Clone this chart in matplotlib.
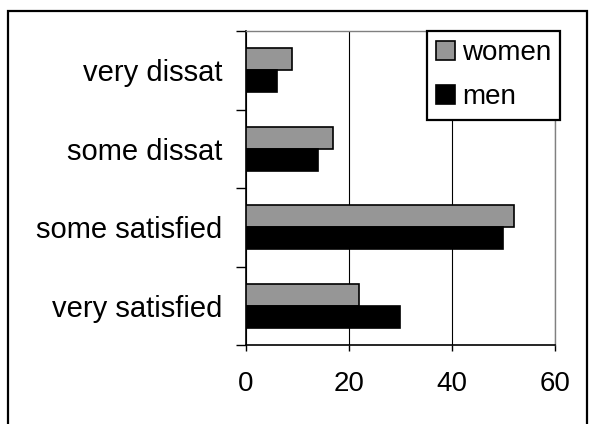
import matplotlib
matplotlib.use("Agg")
import matplotlib.pyplot as plt
from matplotlib.patches import Rectangle
import numpy as np

categories = ["very dissat", "some dissat", "some satisfied", "very satisfied"]
women = [9, 17, 52, 22]
men = [6, 14, 50, 30]
x_ticks = [0, 20, 40, 60]

plt.rcParams["font.family"] = ["Liberation Sans", "DejaVu Sans"]
FS_CAT = 21
FS = 20

fig = plt.figure(figsize=(5.89, 4.24), dpi=100)
ax = fig.add_axes([245.7 / 589, 1 - 345 / 424, (555 - 245.7) / 589, (345 - 31) / 424])

pos = np.arange(len(categories))
bar_h = 0.278
ax.barh(pos - bar_h / 2, women, height=bar_h, color="#969696",
        edgecolor="black", linewidth=1.2, label="women", zorder=3)
ax.barh(pos + bar_h / 2, men, height=bar_h, color="black",
        edgecolor="black", linewidth=1.2, label="men", zorder=3)

ax.set_xlim(0, 60)
ax.set_ylim(len(categories) - 0.5, -0.5)

ax.set_xticks(x_ticks)
ax.set_xticklabels([str(v) for v in x_ticks], fontsize=FS)
ax.tick_params(axis="x", direction="out", length=4, width=1, pad=15)

ax.set_yticks(np.arange(len(categories) + 1) - 0.5)
ax.set_yticklabels([])
ax.tick_params(axis="y", which="major", direction="out", length=7.5, width=1)
ax.set_yticks(pos, minor=True)
ax.set_yticklabels(categories, minor=True, fontsize=FS_CAT)
ax.tick_params(axis="y", which="minor", length=0, pad=17)

ax.xaxis.grid(True, color="black", linewidth=0.8, zorder=1)
ax.set_axisbelow(True)
for side in ("left", "bottom"):
    ax.spines[side].set_color("black")
    ax.spines[side].set_linewidth(1.2)
for side in ("top", "right"):
    ax.spines[side].set_color("#808080")
    ax.spines[side].set_linewidth(1.0)

leg = ax.legend(loc="upper left", bbox_to_anchor=(0.586, 1.0), fontsize=FS,
                frameon=True, fancybox=False, shadow=False, borderaxespad=0,
                handlelength=0.68, handleheight=0.65, handletextpad=0.25,
                labelspacing=0.66, borderpad=0.33)
leg.get_frame().set_edgecolor("black")
leg.get_frame().set_linewidth(1.6)
leg.get_frame().set_alpha(1)
leg.set_zorder(5)

fig.patches.append(Rectangle((7.5 / 589, -0.05), (587 - 7.5) / 589, 1.05 - 11 / 424,
                             transform=fig.transFigure, fill=False,
                             edgecolor="black", linewidth=1.6))

fig.savefig("out.png", dpi=100, facecolor="white")
